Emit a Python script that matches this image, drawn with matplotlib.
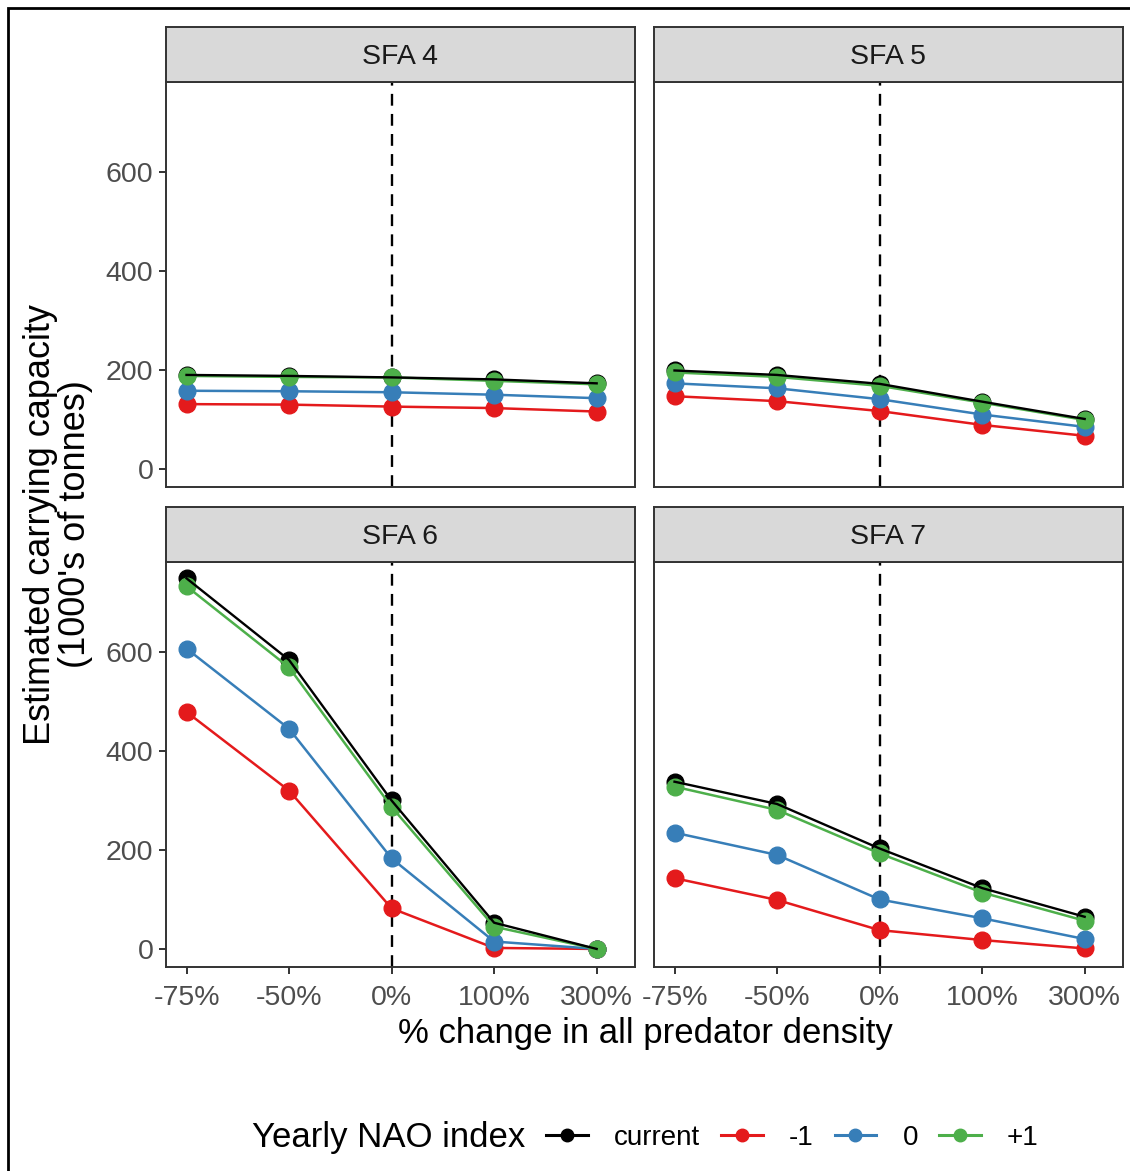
import matplotlib.pyplot as plt
from matplotlib.lines import Line2D
from matplotlib.patches import Rectangle

plt.rcParams['font.family'] = ['Liberation Sans', 'DejaVu Sans']

# predator density scenarios (discrete x axis)
scenarios = ["-75%", "-50%", "0%", "100%", "300%"]
areas = ["SFA 4", "SFA 5", "SFA 6", "SFA 7"]

# estimated carrying capacity, 1000's of tonnes, per NAO scenario
current = {
    "SFA 4": [190, 188, 185, 181, 173],
    "SFA 5": [199, 190, 172, 136, 101],
    "SFA 6": [749, 584, 300, 53, 0],
    "SFA 7": [338, 293, 203, 123, 65],
}
nao_minus1 = {
    "SFA 4": [131, 130, 126, 123, 116],
    "SFA 5": [147, 137, 117, 89, 67],
    "SFA 6": [479, 320, 82, 2, 0],
    "SFA 7": [143, 99, 38, 18, 1],
}
nao_zero = {
    "SFA 4": [158, 157, 155, 150, 143],
    "SFA 5": [173, 163, 141, 110, 85],
    "SFA 6": [607, 445, 183, 15, 0],
    "SFA 7": [235, 190, 100, 62, 20],
}
nao_plus1 = {
    "SFA 4": [188, 186, 185, 178, 171],
    "SFA 5": [195, 186, 168, 134, 99],
    "SFA 6": [733, 569, 287, 45, 0],
    "SFA 7": [328, 281, 193, 114, 57],
}

nao_series = [("-1", nao_minus1, "#E41A1C"),
              ("0", nao_zero, "#377EB8"),
              ("+1", nao_plus1, "#4DAF4A")]

W, H = 1130, 1171
fig = plt.figure(figsize=(W / 100, H / 100), dpi=100)

# panel boxes in pixels: left, right, top, bottom
cols = [(166, 635), (654, 1123)]
rows = [(82, 487), (562, 967)]
strip_h = 55
grey = "#333333"
tick_grey = "#4D4D4D"

x = list(range(len(scenarios)))

for k, area in enumerate(areas):
    r, c = divmod(k, 2)
    l, rr = cols[c]
    t, b = rows[r]
    ax = fig.add_axes([l / W, 1 - b / H, (rr - l) / W, (b - t) / H])
    strip = fig.add_axes([l / W, 1 - t / H, (rr - l) / W, strip_h / H])
    strip.set_facecolor("#D9D9D9")
    strip.set_xticks([])
    strip.set_yticks([])
    for s in strip.spines.values():
        s.set_color(grey)
        s.set_linewidth(1.4)
    strip.text(0.5, 0.46, area, ha="center", va="center", fontsize=20.5,
               color="#1A1A1A", transform=strip.transAxes)

    ax.axvline(2, color="black", lw=1.7, ls=(0, (5, 3.5)), zorder=1)
    ax.plot(x, current[area], "o", color="black", ms=12, zorder=2)
    for name, d, col in nao_series:
        ax.plot(x, d[area], "-", color=col, lw=1.8, zorder=3)
        ax.plot(x, d[area], "o", color=col, ms=12, zorder=3)
    ax.plot(x, current[area], "-", color="black", lw=1.7, zorder=4)

    ax.set_xlim(-0.2, 4.374)
    ax.set_ylim(-36.5, 782)
    ax.set_yticks([0, 200, 400, 600])
    ax.set_xticks(x)
    ax.set_xticklabels(scenarios)
    ax.tick_params(colors=grey, labelcolor=tick_grey, labelsize=20.5,
                   length=5, width=1.4)
    ax.tick_params(axis="x", pad=8)
    ax.tick_params(axis="y", pad=4)
    if r == 0:
        ax.tick_params(axis="x", bottom=False, labelbottom=False)
    if c == 1:
        ax.tick_params(axis="y", left=False, labelleft=False)
    for s in ax.spines.values():
        s.set_color(grey)
        s.set_linewidth(1.4)

fig.text(645 / W, 1 - 1034 / H, "% change in all predator density",
         ha="center", va="center", fontsize=25)
fig.text(58 / W, 1 - 524 / H, "Estimated carrying capacity\n(1000's of tonnes)",
         ha="center", va="center", rotation=90, fontsize=26, linespacing=1.0)

# legend along the bottom
fig.text(252 / W, 1 - 1138 / H, "Yearly NAO index", ha="left", va="center",
         fontsize=25)
handles = [Line2D([], [], color="black", marker="o", ms=9, lw=2.2)]
labels = ["current"]
for name, d, col in nao_series:
    handles.append(Line2D([], [], color=col, marker="o", ms=9, lw=2.2))
    labels.append(name)
fig.legend(handles, labels, ncol=4, frameon=False, fontsize=20,
           loc="center left", bbox_to_anchor=(546 / W, 1 - 1138 / H),
           handlelength=1.5, handletextpad=0.95, columnspacing=0.75,
           borderaxespad=0, borderpad=0)

# outer frame
fig.patches.append(Rectangle((8 / W, -0.02), 1.1, 1 - 8 / H + 0.02,
                             transform=fig.transFigure, fill=False,
                             edgecolor="black", lw=2))

fig.savefig("out.png", dpi=100)
